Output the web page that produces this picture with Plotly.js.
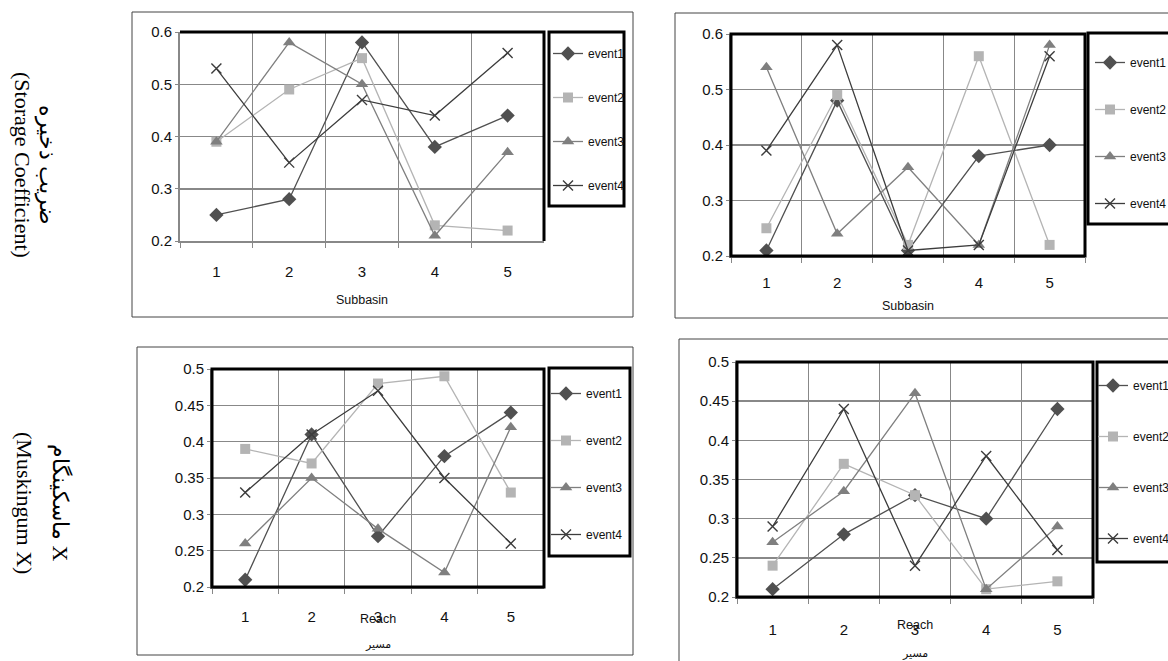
<!DOCTYPE html>
<html><head><meta charset="utf-8">
<script src="https://cdn.plot.ly/plotly-3.0.1.min.js"></script>
<style>html,body{margin:0;padding:0;background:#fff}</style>
</head><body><div id="chart" style="width:1168px;height:661px"></div>
<script>
// ---- data ----
const seriesNames = ['event1', 'event2', 'event3', 'event4'];
const subbasins = ['1', '2', '3', '4', '5'];
const reaches = ['1', '2', '3', '4', '5'];

// Storage coefficient by subbasin (top-left panel)
const storageA_event1 = [0.25, 0.28, 0.58, 0.38, 0.44];
const storageA_event2 = [0.39, 0.49, 0.55, 0.23, 0.22];
const storageA_event3 = [0.39, 0.58, 0.50, 0.21, 0.37];
const storageA_event4 = [0.53, 0.35, 0.47, 0.44, 0.56];

// Storage coefficient by subbasin (top-right panel)
const storageB_event1 = [0.21, 0.48, 0.21, 0.38, 0.40];
const storageB_event2 = [0.25, 0.49, 0.22, 0.56, 0.22];
const storageB_event3 = [0.54, 0.24, 0.36, 0.22, 0.58];
const storageB_event4 = [0.39, 0.58, 0.21, 0.22, 0.56];

// Muskingum X by reach (bottom-left panel)
const muskA_event1 = [0.21, 0.41, 0.27, 0.38, 0.44];
const muskA_event2 = [0.39, 0.37, 0.48, 0.49, 0.33];
const muskA_event3 = [0.26, 0.35, 0.28, 0.22, 0.42];
const muskA_event4 = [0.33, 0.41, 0.47, 0.35, 0.26];

// Muskingum X by reach (bottom-right panel)
const muskB_event1 = [0.21, 0.28, 0.33, 0.30, 0.44];
const muskB_event2 = [0.24, 0.37, 0.33, 0.21, 0.22];
const muskB_event3 = [0.27, 0.335, 0.46, 0.21, 0.29];
const muskB_event4 = [0.29, 0.44, 0.24, 0.38, 0.26];

const yTitleStorageFa = 'ضریب ذخیره';
const yTitleStorageEn = '(Storage Coefficient)';
const yTitleMuskFa = 'ماسکینگام X';
const yTitleMuskEn = '(Muskingum X)';
const xTitleSub = 'Subbasin';
const xTitleReach = 'Reach';
const xTitleReachFa = 'مسیر';

// ---- layout helpers ----
const W = 1168, H = 661;
const px = v => v / W;
const py = v => 1 - v / H;
const SANS = "'Liberation Sans', Arial, sans-serif";
const SERIF = "'Liberation Serif', 'Times New Roman', serif";
const GRID = '#888888';

const styles = [
  {color: '#505050', symbol: 'diamond', size: 11},
  {color: '#b4b4b4', symbol: 'square', size: 10},
  {color: '#7f7f7f', symbol: 'triangle-up', size: 11},
  {color: '#3c3c3c', symbol: 'x-thin-open', size: 10}
];

const panels = [
  {cats: subbasins, data: [storageA_event1, storageA_event2, storageA_event3, storageA_event4],
   box: [180, 544, 32, 241], yr: [0.2, 0.6], dy: 0.1, legend: 'legend',
   tls: 16, title: {text: xTitleSub, standoff: 16}, leg: {x: 548, y: 39, gap: 25}},
  {cats: subbasins, data: [storageB_event1, storageB_event2, storageB_event3, storageB_event4],
   box: [731, 1085, 34, 256], yr: [0.2, 0.6], dy: 0.1, legend: 'legend2',
   tls: 12, title: {text: xTitleSub, standoff: 11}, leg: {x: 1090, y: 48, gap: 28}},
  {cats: reaches, data: [muskA_event1, muskA_event2, muskA_event3, muskA_event4],
   box: [212, 544, 369, 587], yr: [0.2, 0.5], dy: 0.05, legend: 'legend3',
   tls: 15, reach: [378, 619, 643], leg: {x: 546, y: 379, gap: 28}},
  {cats: reaches, data: [muskB_event1, muskB_event2, muskB_event3, muskB_event4],
   box: [737, 1093, 362, 597], yr: [0.2, 0.5], dy: 0.05, legend: 'legend4',
   tls: 18, reach: [915, 625, 652], leg: {x: 1093, y: 371, gap: 32}}
];

const traces = [];
const layout = {
  width: W, height: H,
  margin: {l: 0, r: 0, t: 0, b: 0, autoexpand: false},
  paper_bgcolor: '#fff', plot_bgcolor: '#fff',
  showlegend: true,
  shapes: [], annotations: []
};

panels.forEach((p, i) => {
  const n = i === 0 ? '' : String(i + 1);
  const xa = 'x' + n, ya = 'y' + n;
  p.data.forEach((vals, k) => {
    const s = styles[k];
    traces.push({
      type: 'scatter', mode: 'lines+markers',
      x: p.cats, y: vals, name: seriesNames[k],
      xaxis: xa, yaxis: ya, legend: p.legend, legendgroup: p.legend + k,
      line: {color: s.color, width: 1.3},
      marker: {symbol: s.symbol, size: s.size, color: s.color,
               line: {color: s.color, width: s.symbol.indexOf('x') === 0 ? 1.4 : 0}},
      cliponaxis: false
    });
  });
  const xax = {
    domain: [px(p.box[0]), px(p.box[1])], anchor: ya,
    type: 'category', tickson: 'boundaries',
    range: [-0.5, p.cats.length - 0.5],
    ticks: 'outside', ticklen: 5, tickcolor: GRID, tickwidth: 1,
    showgrid: true, gridcolor: GRID, gridwidth: 1,
    showline: true, linecolor: GRID, linewidth: 2, zeroline: false,
    tickfont: {family: SANS, size: 15, color: '#111'},
    ticklabelstandoff: p.tls,
    fixedrange: true
  };
  if (p.title) {
    xax.title = {text: p.title.text, font: {family: SANS, size: 12.5, color: '#111'}, standoff: p.title.standoff};
  }
  layout['xaxis' + n] = xax;
  layout['yaxis' + n] = {
    domain: [py(p.box[3]), py(p.box[2])], anchor: xa,
    range: p.yr, tick0: 0.2, dtick: p.dy,
    ticks: 'outside', ticklen: 3, tickcolor: GRID, tickwidth: 1,
    showgrid: true, gridcolor: GRID, gridwidth: 1.5,
    showline: true, linecolor: GRID, linewidth: 2, zeroline: false,
    tickfont: {family: SANS, size: 15, color: '#111'},
    fixedrange: true
  };
  layout[p.legend] = {
    x: px(p.leg.x), y: py(p.leg.y), xanchor: 'left', yanchor: 'top',
    xref: 'paper', yref: 'paper',
    bgcolor: 'rgba(0,0,0,0)', borderwidth: 0,
    traceorder: 'grouped', tracegroupgap: p.leg.gap,
    itemwidth: 30,
    font: {family: SANS, size: 12, color: '#111'}
  };
  // Reach titles (English over the tick row, Persian beneath), placed as in the source figure
  if (p.reach) {
    layout.annotations.push({text: xTitleReach, x: px(p.reach[0]), y: py(p.reach[1]),
      xref: 'paper', yref: 'paper', showarrow: false, xanchor: 'center', yanchor: 'middle',
      font: {family: SANS, size: 12.5, color: '#111'}});
    layout.annotations.push({text: xTitleReachFa, x: px(p.reach[0]), y: py(p.reach[2]),
      xref: 'paper', yref: 'paper', showarrow: false, xanchor: 'center', yanchor: 'middle',
      font: {family: "'Noto Sans', 'DejaVu Sans', sans-serif", size: 11, color: '#111'}});
  }
  // plot-area frame
  const [l, r, t, b] = p.box;
  if (i === 0) {
    layout.shapes.push({type: 'path', xref: 'paper', yref: 'paper',
      path: `M${px(l)},${py(t)} L${px(r)},${py(t)} L${px(r)},${py(b)}`,
      line: {color: '#000', width: 3}});
  } else {
    layout.shapes.push({type: 'rect', xref: 'paper', yref: 'paper',
      x0: px(l), x1: px(r), y0: py(b), y1: py(t), line: {color: '#000', width: 3}});
  }
});

// legend boxes
[[549, 624, 32, 206], [1088, 1180, 33, 224], [549, 630, 368, 556], [1097, 1180, 362, 562]]
  .forEach(([l, r, t, b]) => layout.shapes.push({type: 'rect', xref: 'paper', yref: 'paper',
    x0: px(l), x1: px(r), y0: py(b), y1: py(t), line: {color: '#000', width: 3}}));
// outer chart boxes
[[132, 633, 12, 317], [675, 1180, 13, 318], [137, 633, 347, 655], [679, 1180, 339, 680]]
  .forEach(([l, r, t, b]) => layout.shapes.push({type: 'rect', xref: 'paper', yref: 'paper',
    x0: px(l), x1: px(r), y0: py(b), y1: py(t), line: {color: '#444', width: 1}}));

// rotated row labels
const rowLab = (text, x, y) => ({text, x: px(x), y: py(y), xref: 'paper', yref: 'paper',
  showarrow: false, textangle: 90, xanchor: 'center', yanchor: 'middle',
  font: {family: SERIF, size: 22, color: '#000'}});
layout.annotations.push(rowLab(yTitleStorageFa, 47, 165));
layout.annotations.push(rowLab(yTitleStorageEn, 23, 165));
layout.annotations.push(rowLab(yTitleMuskFa, 60, 503));
layout.annotations.push(rowLab(yTitleMuskEn, 25, 503));

Plotly.newPlot('chart', traces, layout, {displayModeBar: false, staticPlot: true});
</script></body></html>
